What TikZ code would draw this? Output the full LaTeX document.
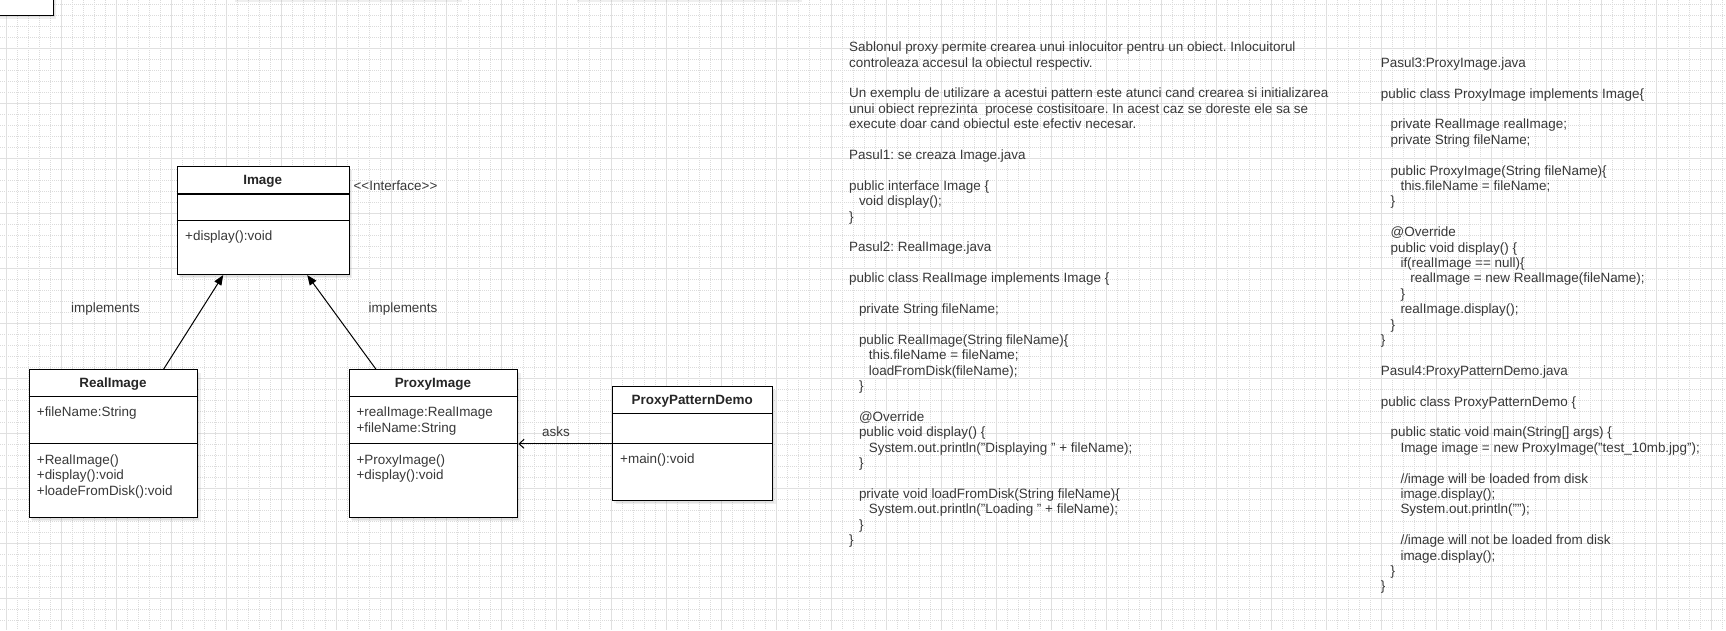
\documentclass[tikz,border=0pt]{standalone}
\usepackage{fontspec}
\setmainfont{Liberation Sans}
\usetikzlibrary{arrows.meta,shadows}
\frenchspacing
\newcommand\colorGridMajor{black!12}
\newcommand\colorGridMinor{black!14}
\newcommand\colorBorder{black}
\newcommand\colorText{black!78}
\newcommand\gridStep{11}
\newcommand\gridNx{156}
\newcommand\gridNy{56}
\newlength\indentStep
\setlength\indentStep{9.8pt}
\newcommand\indentBy[1]{\hspace*{#1\indentStep}}
\newcommand\drawGrid{
	\foreach \i in {0,...,\gridNx}{
		\draw[color=\colorGridMinor, line width=1pt, dash pattern=on 1pt off 1pt] (6+\i*\gridStep,0) to (6+\i*\gridStep,630);
	}
	\foreach \i in {0,...,\gridNy}{
		\draw[color=\colorGridMinor, line width=1pt, dash pattern=on 1pt off 1pt] (0,4+\i*\gridStep) to (1726,4+\i*\gridStep);
	}
	\foreach \i in {0,...,31}{
		\draw[color=\colorGridMajor, line width=1pt] (6+\i*55,0) to (6+\i*55,630);
	}
	\foreach \i in {0,...,10}{
		\draw[color=\colorGridMajor, line width=1pt] (0,48+\i*55) to (1726,48+\i*55);
	}
}
% name, left, top, width, height, title height, attribute height, title
\newcommand\drawClass[8]{
	\node[classbox, minimum width=#4pt, minimum height=#5pt] (#1) at (#2,#3) {};
	\draw[classline] (#2,#3+#6) to (#2+#4,#3+#6);
	\draw[classline] (#2,#3+#6+#7) to (#2+#4,#3+#6+#7);
	\node[classtitle] (#1Title) at (#2+#4/2,#3+#6/2+4.7) {#8};
}

\begin{document}
\begin{tikzpicture}[x=1pt, y=-1pt,
	font=\fontsize{13.45}{15.4}\selectfont,
	classbox/.style={draw=\colorBorder, line width=1.05pt, fill=white, inner sep=0pt, anchor=north west,
		drop shadow={opacity=0.12, shadow xshift=1.5pt, shadow yshift=-2pt},
		drop shadow={opacity=0.12, shadow xshift=3pt, shadow yshift=-3.5pt}},
	classline/.style={color=\colorBorder, line width=1.05pt},
	classtitle/.style={anchor=base, inner sep=0pt, text=black!85, font=\fontsize{13.45}{15.4}\selectfont\bfseries},
	member/.style={anchor=north west, inner sep=0pt, align=left, text=\colorText},
	linklabel/.style={anchor=base, inner sep=0pt, text=\colorText},
	code/.style={anchor=north west, inner sep=0pt, align=left, text=\colorText},
	implements/.style={draw=black, line width=1pt, -{Triangle[length=10pt,width=8pt]}},
	asks/.style={draw=black, line width=1pt, -{Straight Barb[length=5pt,width=9pt]}}]
	\useasboundingbox (0,0) rectangle (1726,630);
	\clip (0,0) rectangle (1726,630);
	\fill[white] (0,0) rectangle (1726,630);
	\drawGrid

	% shapes cut off at the top edge
	\node[classbox, minimum width=56pt, minimum height=20pt, anchor=south east] (cutBoxA) at (53.6,16) {};
	\node[classbox, minimum width=227pt, minimum height=40pt, anchor=south west] (cutBoxB) at (231,-1) {};
	\node[classbox, minimum width=225pt, minimum height=40pt, anchor=south west] (cutBoxC) at (573,-1) {};

	% classes
	\drawClass{image}{176.7}{166}{172}{108}{28}{26.3}{Image}
	\drawClass{realImage}{28.6}{369.3}{168.8}{148}{27}{47}{RealImage}
	\drawClass{proxyImage}{348.5}{369.3}{168.8}{148}{27}{47}{ProxyImage}
	\drawClass{proxyDemo}{612}{386.3}{160.4}{114}{27.4}{29.6}{ProxyPatternDemo}

	\node[member] (imageOps) at (185,230.1) {+display():void};
	\node[member] (realAttr) at (36.7,406.8) {+fileName:String};
	\node[member] (realOps) at (36.7,454.4) {+RealImage()\\+display():void\\+loadeFromDisk():void};
	\node[member] (proxyAttr) at (356.3,406.8) {+realImage:RealImage\\+fileName:String};
	\node[member] (proxyOps) at (356.3,454.4) {+ProxyImage()\\+display():void};
	\node[member] (demoOps) at (620,453.1) {+main():void};
	\node[linklabel] (stereotype) at (395.5,190.7) {<{}<Interface>{}>};

	% relations
	\draw[implements] ([xshift=50pt]realImage.north) to ([xshift=-40pt]image.south);
	\draw[implements] ([xshift=-57.4pt]proxyImage.north) to ([xshift=44pt]image.south);
	\draw[asks] (proxyDemo.west) to (proxyImage.east);
	\node[linklabel] (implLeft) at (105.5,312.7) {implements};
	\node[linklabel] (implRight) at (403,312.7) {implements};
	\node[linklabel] (asksLabel) at (556,436.4) {asks};

	% notes
	\node[code] (notesLeft) at (849,41.8) {Sablonul proxy permite crearea unui inlocuitor pentru un obiect. Inlocuitorul\\
		controleaza accesul la obiectul respectiv.\\
		\\
		Un exemplu de utilizare a acestui pattern este atunci cand crearea si initializarea\\
		unui obiect reprezinta~ procese costisitoare. In acest caz se doreste ele sa se\\
		execute doar cand obiectul este efectiv necesar.\\
		\\
		Pasul1: se creaza Image.java\\
		\\
		public interface Image \{\\
		\indentBy{1}void display();\\
		\}\\
		\\
		Pasul2: RealImage.java\\
		\\
		public class RealImage implements Image \{\\
		\\
		\indentBy{1}private String fileName;\\
		\\
		\indentBy{1}public RealImage(String fileName)\{\\
		\indentBy{2}this.fileName = fileName;\\
		\indentBy{2}loadFromDisk(fileName);\\
		\indentBy{1}\}\\
		\\
		\indentBy{1}@Override\\
		\indentBy{1}public void display() \{\\
		\indentBy{2}System.out.println("Displaying " + fileName);\\
		\indentBy{1}\}\\
		\\
		\indentBy{1}private void loadFromDisk(String fileName)\{\\
		\indentBy{2}System.out.println("Loading " + fileName);\\
		\indentBy{1}\}\\
		\}};
	\node[code] (notesRight) at (1380.7,57.4) {Pasul3:ProxyImage.java\\
		\\
		public class ProxyImage implements Image\{\\
		\\
		\indentBy{1}private RealImage realImage;\\
		\indentBy{1}private String fileName;\\
		\\
		\indentBy{1}public ProxyImage(String fileName)\{\\
		\indentBy{2}this.fileName = fileName;\\
		\indentBy{1}\}\\
		\\
		\indentBy{1}@Override\\
		\indentBy{1}public void display() \{\\
		\indentBy{2}if(realImage == null)\{\\
		\indentBy{3}realImage = new RealImage(fileName);\\
		\indentBy{2}\}\\
		\indentBy{2}realImage.display();\\
		\indentBy{1}\}\\
		\}\\
		\\
		Pasul4:ProxyPatternDemo.java\\
		\\
		public class ProxyPatternDemo \{\\
		\\
		\indentBy{1}public static void main(String[] args) \{\\
		\indentBy{2}Image image = new ProxyImage("test\_10mb.jpg");\\
		\\
		\indentBy{2}//image will be loaded from disk\\
		\indentBy{2}image.display();\\
		\indentBy{2}System.out.println("");\\
		\\
		\indentBy{2}//image will not be loaded from disk\\
		\indentBy{2}image.display();\\
		\indentBy{1}\}\\
		\}};
\end{tikzpicture}
\end{document}
